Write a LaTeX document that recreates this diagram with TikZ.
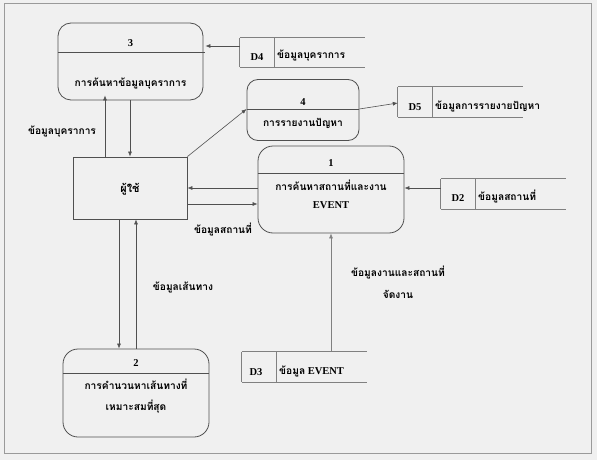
\documentclass[tikz,border=0pt]{standalone}
\usepackage{fontspec}
\setmainfont{Liberation Serif}
\newfontfamily\thaifont[Script=Thai]{Loma}
\usetikzlibrary{arrows.meta,calc}
\definecolor{bg}{HTML}{F0F0F0}
\definecolor{frame}{HTML}{9A9A9A}
\definecolor{boxline}{HTML}{505050}
\definecolor{storeline}{HTML}{808080}
\tikzset{
  proc/.style={draw=boxline,line width=0.8pt,rounded corners=13pt,rectangle,inner sep=0pt},
  ent/.style={draw=boxline,line width=0.8pt,rectangle,inner sep=0pt},
  store/.style={rectangle,inner sep=0pt,draw=none},
  sline/.style={draw=storeline,line width=0.8pt},
  flow/.style={draw=boxline,line width=0.6pt,-{Latex[length=5pt,width=4pt]}},
  txt/.style={font=\thaifont\bfseries\fontsize{10.2}{12}\selectfont,inner sep=0pt,align=center},
  num/.style={font=\bfseries\fontsize{10.5}{12}\selectfont,inner sep=0pt},
}
\begin{document}
\begin{tikzpicture}[x=1pt,y=-1pt]
\useasboundingbox (0,0) rectangle (597,460);
\fill[bg] (0,0) rectangle (597,460);
\draw[frame,line width=1pt] (4,4) rectangle (591,453);

% processes
\node[proc,minimum width=145pt,minimum height=77pt] (p3) at (130.5,61.5) {};
\node[proc,minimum width=112pt,minimum height=61pt,rounded corners=11pt] (p4) at (303,110) {};
\node[proc,minimum width=146pt,minimum height=87pt,rounded corners=15pt] (p1) at (331,189.5) {};
\node[proc,minimum width=146pt,minimum height=88pt,rounded corners=15pt] (p2) at (136,393) {};
\node[ent,minimum width=114pt,minimum height=62pt] (u) at (130,188) {};

% dividers
\draw[boxline,line width=0.8pt] (p3.west |- 0,52) -- ([xshift=2pt]p3.east |- 0,52);
\draw[boxline,line width=0.8pt] (p4.west |- 0,109) -- (p4.east |- 0,109);
\draw[boxline,line width=0.8pt] (p1.west |- 0,173) -- (p1.east |- 0,173);
\draw[boxline,line width=0.8pt] (p2.west |- 0,373) -- (p2.east |- 0,373);

% process texts
\node[num] (n3) at (130.5,43) {3};
\node[txt] (t3) at (130.5,84) {การค้นหาข้อมูลบุคราการ};
\node[num] (n4) at (303,102) {4};
\node[txt] (t4) at (303,123) {การรายงานปัญหา};
\node[num] (n1) at (331,163) {1};
\node[txt] (t1) at (331,185) {การค้นหาสถานที่และงาน};
\node[num] (t1b) at (331,205) {EVENT};
\node[num] (n2) at (136,363) {2};
\node[txt] (t2) at (136,384) {การคำนวนหาเส้นทางที่};
\node[txt] (t2b) at (136,407) {เหมาะสมที่สุด};
\node[txt,font=\thaifont\bfseries\fontsize{11}{12}\selectfont] (tu) at (130,189) {ผู้ใช้};

% stores
\node[store,minimum width=125pt,minimum height=29pt] (d4) at (302.5,52.5) {};
\node[store,minimum width=125pt,minimum height=30pt] (d5) at (460.5,102) {};
\node[store,minimum width=125pt,minimum height=30pt] (d2) at (503.5,194) {};
\node[store,minimum width=125pt,minimum height=30pt] (d3) at (304.5,367) {};
\foreach \s/\ix in {d4/35,d5/35,d2/35,d3/35}{
  \draw[sline] (\s.north west) -- (\s.north east);
  \draw[sline] (\s.south west) -- (\s.south east);
  \draw[sline] (\s.north west) -- (\s.south west);
  \draw[sline] ([xshift=\ix pt]\s.north west) -- ([xshift=\ix pt]\s.south west);
}
\node[num] (d4id) at (257,57) {D4};
\node[txt,anchor=west] (d4t) at (277,56) {ข้อมูลบุคราการ};
\node[num] (d5id) at (415,107) {D5};
\node[txt,anchor=west] (d5t) at (435,106) {ข้อมูลการรายงายปัญหา};
\node[num] (d2id) at (458,198) {D2};
\node[txt,anchor=west] (d2t) at (478,197) {ข้อมูลสถานที่};
\node[num] (d3id) at (256,372) {D3};
\node[anchor=west,inner sep=0pt] (d3t) at (279,371) {{\thaifont\bfseries\fontsize{10.2}{12}\selectfont ข้อมูล} {\bfseries\fontsize{10.5}{12}\selectfont EVENT}};

% flows
\draw[flow] (d4.west |- 0,46) -- ([xshift=2pt]p3.east |- 0,46);
\draw[flow] (u.north -| 105,0) -- ([yshift=5pt]p3.south -| 105,0);
\draw[flow] (p3.south -| 130,0) -- (u.north -| 130,0);
\draw[flow] (u.north east) -- (p4.west |- 0,109);
\draw[flow] (p4.east |- 0,109) -- (d5.west |- 0,103);
\draw[flow] (p1.west |- 0,188) -- (u.east |- 0,188);
\draw[flow] (u.east |- 0,204) -- (p1.west |- 0,204);
\draw[flow] (d2.west |- 0,188) -- (p1.east |- 0,188);
\draw[flow] (u.south -| 119,0) -- (p2.north -| 119,0);
\draw[flow] (p2.north -| 136,0) -- (u.south -| 136,0);
\draw[flow,draw=storeline] (d3.north -| 331,0) -- (p1.south -| 331,0);

% flow labels
\node[txt] (l1) at (62,132) {ข้อมูลบุคราการ};
\node[txt] (l2) at (223,230) {ข้อมูลสถานที่};
\node[txt] (l3) at (183,287) {ข้อมูลเส้นทาง};
\node[txt] (l4) at (398,273) {ข้อมูลงานและสถานที่};
\node[txt] (l4b) at (398,294) {จัดงาน};
\end{tikzpicture}
\end{document}
